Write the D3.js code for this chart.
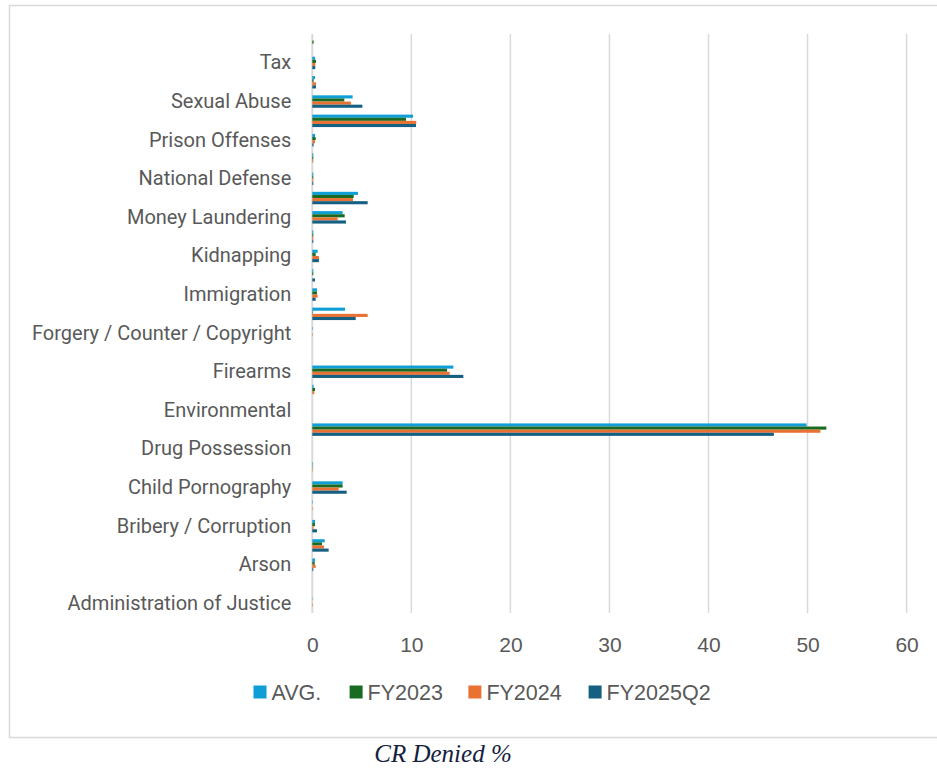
<!DOCTYPE html>
<html>
<head>
<meta charset="utf-8">
<script src="https://cdn.jsdelivr.net/npm/d3@7/dist/d3.min.js"></script>
<style>
  html, body { margin: 0; padding: 0; background: #ffffff; }
  svg { display: block; }
</style>
</head>
<body>
<svg id="chart" width="937" height="770"></svg>
<script>
// Offense categories, bottom to top as listed on the axis
const categories = [
  "Administration of Justice", "Antitrust", "Arson", "Assault",
  "Bribery / Corruption", "Burglary / Trespass", "Child Pornography",
  "Commercialized Vice", "Drug Possession", "Drug Trafficking",
  "Environmental", "Extortion / Racketeering", "Firearms", "Food and Drug",
  "Forgery / Counter / Copyright", "Fraud / Theft / Embezzlement",
  "Immigration", "Individual Rights", "Kidnapping", "Manslaughter",
  "Money Laundering", "Murder", "National Defense",
  "Obscenity / Other Sex Offenses", "Prison Offenses", "Robbery",
  "Sexual Abuse", "Stalking / Harassing", "Tax", "Traffic / Other"
];

// Share of compassionate-release denials (%) per category
const avgValues = [
  0.03, 0, 0.27, 1.25, 0.27, 0.05, 3.06, 0.05, 0, 49.9,
  0, 0.13, 14.24, 0, 0.05, 3.3, 0.47, 0.1, 0.54, 0.1,
  3.06, 4.61, 0.1, 0.1, 0.27, 10.17, 4.07, 0.27, 0.27, 0
];
const fy2023Values = [
  0, 0, 0.24, 0.98, 0.27, 0, 3.06, 0.03, 0, 51.9,
  0, 0.27, 13.6, 0, 0, 0.05, 0.47, 0.1, 0.34, 0.1,
  3.27, 4.18, 0.1, 0.1, 0.34, 9.46, 3.23, 0.13, 0.37, 0.13
];
const fy2024Values = [
  0.05, 0, 0.34, 1.18, 0.13, 0.05, 2.66, 0.05, 0, 51.3,
  0, 0.2, 13.87, 0, 0.05, 5.59, 0.54, 0, 0.67, 0.1,
  2.56, 4.1, 0.1, 0.1, 0.27, 10.5, 3.9, 0.37, 0.3, 0
];
const fy2025q2Values = [
  0, 0, 0.1, 1.65, 0.47, 0, 3.47, 0, 0, 46.6,
  0, 0, 15.25, 0, 0, 4.38, 0.34, 0.27, 0.67, 0.1,
  3.4, 5.59, 0.1, 0, 0.13, 10.47, 5.05, 0.37, 0.3, 0
];

const seriesNames = ["AVG.", "FY2023", "FY2024", "FY2025Q2"];
const seriesColors = ["#0F9ED5", "#196B24", "#E97132", "#156082"];
const xTicks = [0, 10, 20, 30, 40, 50, 60];
const captionText = "CR Denied %";

const seriesValues = [avgValues, fy2023Values, fy2024Values, fy2025q2Values];
const rows = categories.map((c, i) => ({
  category: c,
  values: seriesNames.map((s, k) => ({ series: s, value: seriesValues[k][i] }))
}));

const svg = d3.select("#chart");
const plot = { left: 312.3, right: 906.6, top: 34, bottom: 613 };

// outer chart frame
svg.append("rect")
  .attr("x", 9.5).attr("y", 5.5)
  .attr("width", 940).attr("height", 732)
  .attr("fill", "#ffffff")
  .attr("stroke", "#D9D9D9").attr("stroke-width", 1.5);

const x = d3.scaleLinear().domain([0, 60]).range([plot.left, plot.right]);
const y = d3.scaleBand()
  .domain(categories.slice().reverse())
  .range([plot.top, plot.bottom])
  .paddingInner(0.355).paddingOuter(0.1775);
const ySub = d3.scaleBand().domain(seriesNames).range([0, y.bandwidth()]);
const color = d3.scaleOrdinal().domain(seriesNames).range(seriesColors);

// vertical gridlines
svg.append("g")
  .selectAll("line")
  .data(xTicks)
  .join("line")
  .attr("x1", d => x(d)).attr("x2", d => x(d))
  .attr("y1", plot.top).attr("y2", plot.bottom)
  .attr("stroke", "#D9D9D9")
  .attr("stroke-width", d => d === 0 ? 2 : 1.5);

// x axis tick labels
const xAxis = d3.axisBottom(x).tickValues(xTicks).tickSize(0).tickPadding(0);
const gx = svg.append("g")
  .attr("transform", `translate(0,${plot.bottom + 39})`)
  .call(xAxis);
gx.select(".domain").remove();
gx.selectAll("text")
  .attr("fill", "#595959")
  .attr("font-family", "'Liberation Sans', Arial, sans-serif")
  .attr("font-size", "21px")
  .attr("dy", "0");

// y axis labels: every other category is labelled
const yAxis = d3.axisLeft(y)
  .tickValues(categories.filter((c, i) => i % 2 === 0))
  .tickSize(0).tickPadding(21);
const gy = svg.append("g")
  .attr("transform", `translate(${plot.left},0)`)
  .call(yAxis);
gy.select(".domain").remove();
gy.selectAll("text")
  .attr("fill", "#595959")
  .attr("font-family", "Roboto, sans-serif")
  .attr("font-size", "20px");

// grouped bars
svg.append("g")
  .selectAll("g")
  .data(rows)
  .join("g")
  .attr("transform", d => `translate(0,${y(d.category)})`)
  .selectAll("rect")
  .data(d => d.values)
  .join("rect")
  .attr("x", x(0))
  .attr("y", d => ySub(d.series))
  .attr("width", d => x(d.value) - x(0))
  .attr("height", ySub.bandwidth())
  .attr("fill", d => color(d.series));

// legend
const legendStarts = [253.5, 349.6, 468.4, 588.6];
const legend = svg.append("g").attr("transform", "translate(0,692)");
const items = legend.selectAll("g")
  .data(seriesNames)
  .join("g")
  .attr("transform", (d, i) => `translate(${legendStarts[i]},0)`);
items.append("rect")
  .attr("x", 0).attr("y", -6.5)
  .attr("width", 13).attr("height", 13)
  .attr("fill", d => color(d));
items.append("text")
  .attr("x", 18).attr("y", 0).attr("dy", "0.35em")
  .attr("fill", "#595959")
  .attr("font-family", "'Liberation Sans', Arial, sans-serif")
  .attr("font-size", "21.5px")
  .text(d => d);

// caption below the frame
svg.append("text")
  .attr("x", 443).attr("y", 762)
  .attr("text-anchor", "middle")
  .attr("fill", "#14213D")
  .attr("font-family", "'Liberation Serif', 'DejaVu Serif', serif")
  .attr("font-style", "italic")
  .attr("font-size", "25px")
  .text(captionText);
</script>
</body>
</html>
